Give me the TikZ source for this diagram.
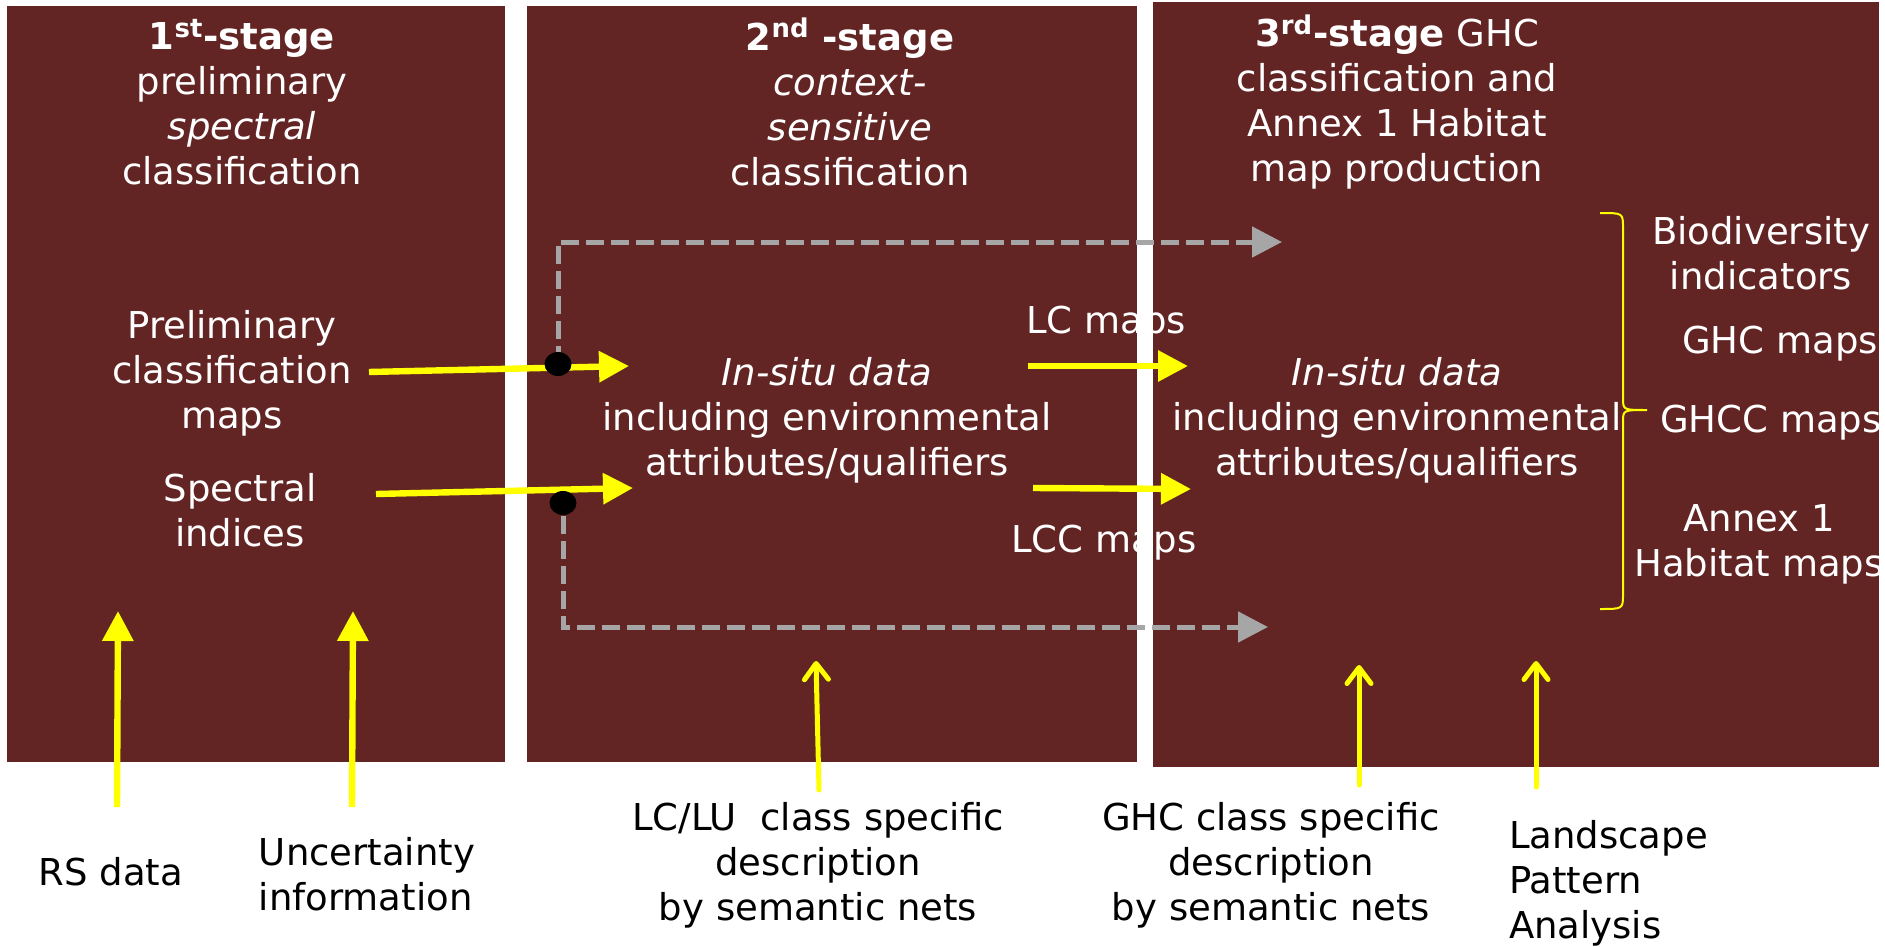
\documentclass[tikz,border=0pt]{standalone}
\usepackage{fontspec}
\setmainfont{DejaVu Sans}
\usepackage{tikz}
\usetikzlibrary{arrows.meta,shapes.geometric}
\definecolor{StagePanelColor}{RGB}{99,36,36}
\definecolor{StageArrowColor}{RGB}{255,255,0}
\definecolor{StageDashColor}{RGB}{166,166,166}

\begin{document}
\begin{tikzpicture}[x=0.5pt,y=-0.5pt,
  panel/.style n args={2}{fill=StagePanelColor,minimum width=#1,minimum height=#2,inner sep=0pt,rectangle},
  txt/.style={text=white,align=center,font=\fontsize{18.5}{22.5}\selectfont},
  outtxt/.style={txt,text=black},
  yarr/.style={StageArrowColor,line width=3.2pt,-{Triangle[length=15pt,width=15pt]}},
  barb/.style={StageArrowColor,line width=2.5pt,line cap=round,-{Straight Barb[length=8pt,width=12pt,round]}},
  garr/.style={StageDashColor,line width=2.5pt,dash pattern=on 9pt off 3.5pt,-{Triangle[length=15pt,width=15pt]}},
  jdot/.style={ellipse,fill=black,minimum width=13.5pt,minimum height=12pt,inner sep=0pt}]
\useasboundingbox (0,0) rectangle (1885,947);
% stage panels
\node[panel={249pt}{378pt}] (s1) at (256,384) {};
\node[panel={305pt}{378pt}] (s2) at (832,384) {};
\node[panel={363pt}{382.5pt}] (s3) at (1516,384.5) {};
% stage titles
\node[txt] (t1) at (242,102) {\textbf{1\textsuperscript{st}-stage}\\preliminary\\\textit{spectral}\\classification};
\node[txt] (t2) at (850,102) {\textbf{2\textsuperscript{nd} -stage}\\\textit{context-}\\\textit{sensitive}\\classification};
\node[txt] (t3) at (1397,102) {\textbf{3\textsuperscript{rd}-stage} GHC\\classification and\\Annex 1 Habitat\\map production};
% panel contents
\node[txt] (prelim) at (232,373) {Preliminary\\classification\\maps};
\node[txt] (spec) at (240,510) {Spectral\\indices};
\node[txt] (insitu2) at (827,420) {\textit{In-situ data}\\including environmental\\attributes/qualifiers};
\node[txt] (insitu3) at (1397,420) {\textit{In-situ data}\\including environmental\\attributes/qualifiers};
\node[txt] (lc) at (1106,324) {LC maps};
\node[txt] (lcc) at (1104,543) {LCC maps};
\node[txt] (bio) at (1761,253) {Biodiversity\\indicators};
\node[txt] (ghc) at (1780,344) {GHC maps};
\node[txt] (ghcc) at (1771,423) {GHCC maps};
\node[txt] (annex) at (1759,544) {Annex 1\\Habitat maps};
% inputs below
\node[outtxt] (rs) at (111,872) {RS data};
\node[outtxt,align=left] (unc) at (367,874) {Uncertainty\\information};
\node[outtxt] (lclu) at (818,865) {LC/LU\ \ class specific\\description\\by semantic nets};
\node[outtxt] (ghcdesc) at (1271,865) {GHC class specific\\description\\by semantic nets};
\node[outtxt,align=left,anchor=west] (lpa) at (1502,883) {Landscape\\Pattern\\Analysis};
% arrow ends
\coordinate (j1) at (558,364);
\coordinate (j2) at (563,503);
\coordinate (g1) at (1282,242);
\coordinate (g2) at (1268,627);
\coordinate (p1) at (369,372);  \coordinate (q1) at (629,366);
\coordinate (p2) at (376,494);  \coordinate (q2) at (633,488);
\coordinate (p3) at (1028,366); \coordinate (q3) at (1188,366);
\coordinate (p4) at (1033,488); \coordinate (q4) at (1191,489);
\coordinate (u1) at (117,807);  \coordinate (v1) at (118,611);
\coordinate (u2) at (352,807);  \coordinate (v2) at (353,611);
\coordinate (u3) at (819,790);  \coordinate (v3) at (816,661);
\coordinate (u4) at (1359,785); \coordinate (v4) at (1359,665);
\coordinate (u5) at (1536,787); \coordinate (v5) at (1536,661);
% dashed bypass
\draw[garr] (j1) |- (g1);
\draw[garr] ([yshift=6pt]j2) |- (g2);
% flows
\foreach \i in {1,...,4}
  \draw[yarr] (p\i) -- (q\i);
\foreach \i in {1,2}
  \draw[yarr] (u\i) -- (v\i);
\foreach \i in {3,4,5}
  \draw[barb] (u\i) -- (v\i);
\node[jdot] (d1) at (j1) {};
\node[jdot] (d2) at (j2) {};
% outputs brace
\draw[StageArrowColor,line width=1pt] (1600,213) .. controls (1623,213) .. (1623,228) -- (1623,398)
  .. controls (1623,410) .. (1647,410) .. controls (1623,410) .. (1623,422) -- (1623,594)
  .. controls (1623,609) .. (1600,609);
\end{tikzpicture}
\end{document}
